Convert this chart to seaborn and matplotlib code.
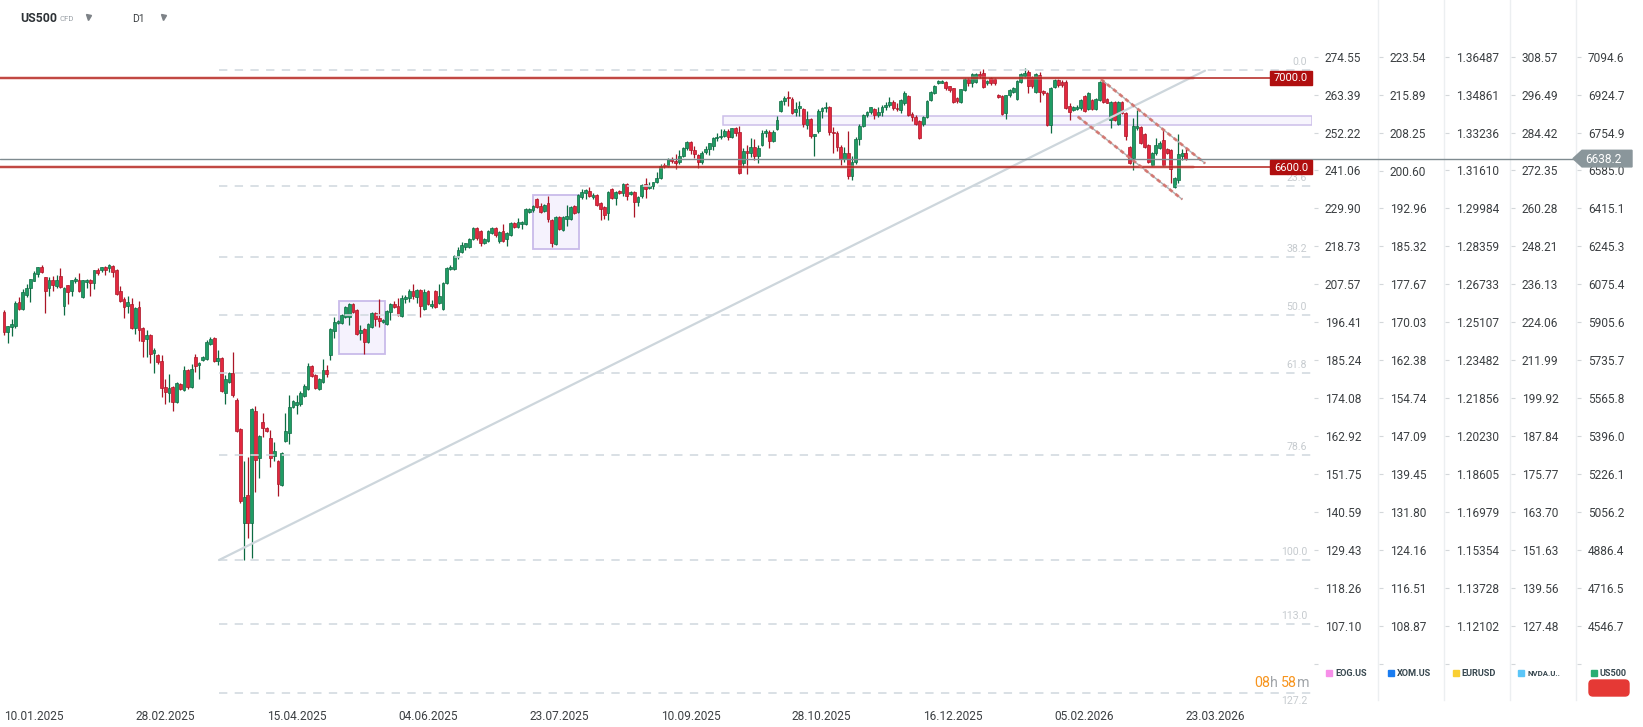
import numpy as np
import pandas as pd
import matplotlib
matplotlib.use("Agg")
import matplotlib.pyplot as plt
from matplotlib.patches import Rectangle, Polygon, FancyBboxPatch
import seaborn as sns

# ---------------- chart values ----------------
opens = [
    5950, 5863, 5885, 5888, 5995, 5966, 6027, 6060, 6091, 6120,
    6151, 6107, 6057, 6093, 6069, 6111, 5979, 6071, 6044, 6089,
    6093, 6017, 6084, 6093, 6080, 6138, 6138, 6151, 6150, 6157,
    6139, 6044, 6008, 5979, 5986, 5881, 5972, 5880, 5830, 5848,
    5767, 5758, 5732, 5615, 5589, 5615, 5548, 5629, 5602, 5691,
    5615, 5750, 5714, 5736, 5741, 5808, 5835, 5732, 5745, 5589,
    5638, 5678, 5557, 5427, 5006, 5132, 5006, 5508, 5297, 5458,
    5432, 5387, 5306, 5284, 5176, 5373, 5409, 5526, 5535, 5539,
    5575, 5606, 5709, 5669, 5606, 5638, 5691, 5758, 5866, 5902,
    5902, 5929, 5929, 5987, 5960, 5857, 5875, 5817, 5884, 5947,
    5924, 5906, 5897, 5951, 5987, 5978, 5933, 6009, 6014, 6045,
    6018, 6050, 5965, 6045, 5978, 6045, 5992, 5965, 6081, 6144,
    6144, 6197, 6220, 6242, 6242, 6278, 6327, 6314, 6260, 6269,
    6305, 6327, 6269, 6314, 6278, 6296, 6350, 6332, 6345, 6345,
    6399, 6408, 6457, 6426, 6404, 6439, 6363, 6256, 6377, 6318,
    6368, 6368, 6426, 6399, 6466, 6484, 6493, 6466, 6475, 6439,
    6421, 6395, 6502, 6462, 6493, 6484, 6525, 6480, 6489, 6444,
    6470, 6525, 6505, 6515, 6535, 6552, 6607, 6606, 6635, 6626,
    6625, 6652, 6684, 6713, 6678, 6655, 6625, 6668, 6680, 6695,
    6732, 6736, 6738, 6762, 6735, 6774, 6756, 6620, 6670, 6665,
    6692, 6648, 6700, 6755, 6757, 6718, 6770, 6850, 6895, 6912,
    6905, 6845, 6865, 6860, 6790, 6815, 6738, 6760, 6850, 6866,
    6870, 6755, 6752, 6690, 6638, 6665, 6560, 6625, 6725, 6786,
    6833, 6845, 6860, 6835, 6845, 6870, 6878, 6890, 6866, 6855,
    6887, 6919, 6838, 6825, 6807, 6793, 6825, 6901, 6932, 6977,
    6977, 6981, 6963, 6954, 6910, 6892, 6945, 6995, 6977, 6980,
    7017, 7022, 6977, 6999, 6995, 6923, 6920, 6841, 6923, 6938,
    6904, 6981, 7008, 7027, 7002, 6938, 7013, 6942, 6930, 6789,
    6960, 6990, 6983, 6983, 6874, 6856, 6859, 6864, 6920, 6859,
    6901, 6859, 6901, 6983, 6904, 6811, 6890, 6793, 6893, 6841,
    6691, 6640, 6774, 6781, 6748, 6699, 6610, 6662, 6684, 6722,
    6680, 6677, 6512, 6542, 6650, 6663,
]
highs = [
    5960, 5890, 5920, 6000, 6017, 6053, 6075, 6100, 6135, 6153,
    6162, 6110, 6109, 6111, 6116, 6148, 6062, 6073, 6095, 6108,
    6126, 6095, 6100, 6100, 6140, 6147, 6153, 6158, 6166, 6162,
    6142, 6068, 6018, 6023, 6014, 5974, 6000, 5884, 5870, 5852,
    5790, 5765, 5758, 5651, 5673, 5620, 5638, 5633, 5709, 5695,
    5718, 5763, 5727, 5754, 5826, 5839, 5839, 5781, 5750, 5669,
    5682, 5772, 5566, 5431, 5284, 5302, 5521, 5530, 5400, 5499,
    5436, 5423, 5369, 5288, 5324, 5499, 5579, 5557, 5579, 5597,
    5629, 5723, 5714, 5673, 5656, 5741, 5714, 5880, 5929, 5915,
    5942, 5979, 5992, 5992, 5965, 5893, 5880, 5902, 5951, 5951,
    6009, 5920, 5960, 5992, 6001, 6014, 6027, 6027, 6054, 6077,
    6054, 6054, 6054, 6048, 6005, 6048, 6077, 6085, 6152, 6162,
    6206, 6242, 6265, 6262, 6282, 6331, 6331, 6318, 6282, 6318,
    6332, 6331, 6312, 6345, 6309, 6354, 6354, 6372, 6358, 6416,
    6416, 6430, 6461, 6439, 6434, 6471, 6367, 6381, 6381, 6381,
    6430, 6426, 6430, 6480, 6502, 6502, 6511, 6484, 6480, 6443,
    6424, 6493, 6507, 6493, 6498, 6529, 6529, 6493, 6493, 6470,
    6523, 6552, 6532, 6535, 6580, 6612, 6620, 6640, 6647, 6658,
    6676, 6692, 6715, 6717, 6696, 6660, 6670, 6695, 6710, 6735,
    6751, 6770, 6769, 6770, 6775, 6780, 6785, 6686, 6700, 6730,
    6728, 6700, 6765, 6772, 6765, 6766, 6827, 6900, 6920, 6940,
    6915, 6890, 6895, 6865, 6850, 6820, 6750, 6860, 6870, 6890,
    6875, 6780, 6760, 6700, 6690, 6760, 6650, 6735, 6795, 6840,
    6850, 6870, 6865, 6870, 6880, 6890, 6915, 6900, 6885, 6905,
    6941, 6923, 6847, 6834, 6811, 6830, 6901, 6941, 6968, 6990,
    6992, 6984, 6965, 6956, 6915, 6952, 6999, 6999, 7020, 7022,
    7030, 7039, 6990, 7004, 6999, 6928, 6925, 6925, 6950, 6960,
    6990, 7020, 7043, 7035, 7008, 7022, 7026, 6945, 6935, 6958,
    6995, 6995, 6988, 6988, 6887, 6874, 6878, 6905, 6925, 6935,
    6905, 6910, 6985, 6990, 6910, 6896, 6895, 6894, 6898, 6845,
    6695, 6820, 6856, 6786, 6752, 6704, 6666, 6730, 6715, 6766,
    6686, 6680, 6556, 6748, 6681, 6681,
]
lows = [
    5848, 5811, 5844, 5881, 5962, 5960, 6020, 5997, 6088, 6107,
    6125, 5948, 6023, 6047, 6057, 6060, 5939, 5988, 6024, 6080,
    6042, 6015, 6060, 6024, 6055, 6118, 6132, 6118, 6130, 6107,
    6027, 5996, 5926, 5948, 5876, 5851, 5823, 5750, 5750, 5723,
    5678, 5720, 5570, 5539, 5548, 5508, 5543, 5600, 5597, 5606,
    5611, 5682, 5651, 5732, 5736, 5803, 5727, 5714, 5593, 5539,
    5633, 5570, 5414, 5096, 4840, 4939, 4849, 5145, 5208, 5391,
    5414, 5257, 5284, 5127, 5172, 5369, 5360, 5520, 5494, 5530,
    5570, 5602, 5660, 5606, 5602, 5633, 5660, 5736, 5835, 5897,
    5897, 5924, 5893, 5947, 5848, 5826, 5763, 5812, 5880, 5889,
    5884, 5902, 5893, 5915, 5969, 5933, 5929, 5992, 5996, 6009,
    5992, 5929, 5960, 5983, 5969, 5969, 5987, 5960, 6077, 6139,
    6139, 6189, 6215, 6229, 6238, 6273, 6274, 6247, 6256, 6265,
    6300, 6287, 6260, 6265, 6247, 6292, 6327, 6329, 6323, 6341,
    6394, 6399, 6417, 6394, 6399, 6354, 6242, 6251, 6318, 6314,
    6336, 6363, 6390, 6394, 6457, 6457, 6466, 6457, 6426, 6363,
    6368, 6363, 6457, 6430, 6480, 6471, 6453, 6475, 6377, 6426,
    6462, 6463, 6500, 6500, 6530, 6548, 6595, 6600, 6618, 6590,
    6615, 6645, 6675, 6660, 6640, 6595, 6615, 6660, 6655, 6675,
    6715, 6725, 6735, 6720, 6730, 6740, 6570, 6600, 6570, 6645,
    6630, 6620, 6695, 6735, 6685, 6712, 6765, 6845, 6880, 6875,
    6840, 6830, 6830, 6780, 6770, 6730, 6650, 6755, 6820, 6845,
    6745, 6665, 6670, 6610, 6625, 6545, 6541, 6615, 6700, 6780,
    6825, 6838, 6815, 6825, 6830, 6855, 6870, 6855, 6850, 6842,
    6878, 6829, 6807, 6789, 6726, 6785, 6820, 6896, 6928, 6972,
    6975, 6945, 6937, 6887, 6887, 6885, 6941, 6963, 6959, 6975,
    7000, 6955, 6968, 6970, 6968, 6910, 6834, 6816, 6915, 6932,
    6900, 6975, 7004, 6932, 6955, 6932, 6890, 6925, 6785, 6754,
    6955, 6960, 6960, 6860, 6811, 6850, 6855, 6858, 6848, 6855,
    6855, 6855, 6896, 6888, 6885, 6775, 6805, 6788, 6836, 6722,
    6614, 6587, 6766, 6702, 6686, 6620, 6605, 6654, 6680, 6605,
    6660, 6528, 6508, 6528, 6632, 6632,
]
closes = [
    5863, 5888, 5897, 5990, 5966, 6039, 6057, 6098, 6125, 6151,
    6130, 6047, 6093, 6073, 6093, 6065, 6059, 6042, 6093, 6099,
    6047, 6093, 6093, 6080, 6138, 6126, 6151, 6139, 6162, 6132,
    6030, 6002, 5975, 5995, 5878, 5969, 5871, 5821, 5848, 5763,
    5781, 5727, 5611, 5593, 5611, 5548, 5633, 5606, 5691, 5615,
    5696, 5709, 5723, 5750, 5817, 5830, 5732, 5745, 5597, 5651,
    5678, 5579, 5418, 5105, 5123, 5006, 5517, 5288, 5396, 5432,
    5418, 5297, 5329, 5181, 5320, 5418, 5526, 5553, 5548, 5589,
    5620, 5709, 5665, 5611, 5651, 5691, 5673, 5875, 5906, 5911,
    5938, 5974, 5987, 5951, 5853, 5871, 5817, 5897, 5947, 5920,
    5911, 5915, 5956, 5987, 5974, 5938, 6014, 6018, 6045, 6023,
    6050, 5978, 6039, 5987, 5987, 5974, 6023, 6081, 6148, 6153,
    6202, 6229, 6251, 6260, 6278, 6327, 6283, 6260, 6278, 6314,
    6327, 6296, 6309, 6269, 6305, 6350, 6332, 6354, 6354, 6412,
    6412, 6426, 6421, 6399, 6430, 6368, 6260, 6377, 6323, 6377,
    6381, 6421, 6395, 6475, 6489, 6498, 6471, 6475, 6430, 6412,
    6386, 6489, 6462, 6489, 6484, 6525, 6471, 6489, 6444, 6466,
    6522, 6502, 6515, 6532, 6552, 6607, 6604, 6635, 6626, 6620,
    6651, 6684, 6713, 6676, 6658, 6625, 6664, 6681, 6708, 6731,
    6735, 6736, 6760, 6734, 6773, 6755, 6572, 6674, 6664, 6691,
    6650, 6684, 6755, 6755, 6719, 6758, 6812, 6895, 6911, 6910,
    6842, 6860, 6872, 6791, 6816, 6740, 6748, 6852, 6866, 6871,
    6757, 6754, 6692, 6637, 6662, 6558, 6623, 6725, 6786, 6833,
    6845, 6869, 6832, 6849, 6870, 6877, 6890, 6866, 6860, 6901,
    6932, 6834, 6825, 6793, 6730, 6825, 6896, 6937, 6963, 6986,
    6986, 6954, 6945, 6892, 6896, 6950, 6995, 6977, 7017, 7015,
    7008, 6959, 6986, 6977, 6977, 6913, 6838, 6923, 6945, 6953,
    6986, 7016, 7020, 6965, 6965, 7016, 6938, 6930, 6789, 6953,
    6990, 6968, 6968, 6864, 6848, 6869, 6871, 6901, 6853, 6930,
    6859, 6905, 6980, 6893, 6889, 6893, 6811, 6890, 6841, 6739,
    6617, 6784, 6784, 6707, 6691, 6624, 6662, 6699, 6710, 6609,
    6665, 6590, 6553, 6658, 6663, 6638,
]

date_labels = ["10.01.2025", "28.02.2025", "15.04.2025", "04.06.2025", "23.07.2025",
               "10.09.2025", "28.10.2025", "16.12.2025", "05.02.2026", "23.03.2026"]
date_ticks = [0, 35, 70, 105, 140, 175, 210, 245, 280, 315]

fib_levels = [0.0, 23.6, 38.2, 50.0, 61.8, 78.6, 100.0, 113.0, 127.2]
fib_top = 7035.0
fib_bottom = 4840.0
fib_from = 57.3

red_levels = [7000.0, 6600.0]
last_price = 6638.2

trend_x = [57.3, 320.1]
trend_y = [4840.0, 7032.0]
chan_up_x = [292.4, 320.1]
chan_up_y = [6993.0, 6617.0]
chan_lo_x = [286.2, 314.0]
chan_lo_y = [6826.0, 6456.0]

box_x0 = [89.4, 141.0]
box_x1 = [101.5, 153.3]
box_lo = [5763.0, 6233.0]
box_hi = [6000.0, 6475.0]
band_x0 = 191.6
band_lo, band_hi = 6789.0, 6829.0

col_names = ["EOG.US", "XOM.US", "EURUSD", "NVDA.U..", "US500"]
col_colors = ["#f78fe9", "#1a7cf0", "#f9cf33", "#5bc6f8", "#27ad72"]
eog_ticks = [274.55, 263.39, 252.22, 241.06, 229.90, 218.73, 207.57, 196.41,
             185.24, 174.08, 162.92, 151.75, 140.59, 129.43, 118.26, 107.10]
xom_ticks = [223.54, 215.89, 208.25, 200.60, 192.96, 185.32, 177.67, 170.03,
             162.38, 154.74, 147.09, 139.45, 131.80, 124.16, 116.51, 108.87]
eurusd_ticks = [1.36487, 1.34861, 1.33236, 1.31610, 1.29984, 1.28359, 1.26733, 1.25107,
                1.23482, 1.21856, 1.20230, 1.18605, 1.16979, 1.15354, 1.13728, 1.12102]
nvda_ticks = [308.57, 296.49, 284.42, 272.35, 260.28, 248.21, 236.13, 224.06,
              211.99, 199.92, 187.84, 175.77, 163.70, 151.63, 139.56, 127.48]
us500_ticks = [7094.6, 6924.7, 6754.9, 6585.0, 6415.1, 6245.3, 6075.4, 5905.6,
               5735.7, 5565.8, 5396.0, 5226.1, 5056.2, 4886.4, 4716.5, 4546.7]
col_ticks = [eog_ticks, xom_ticks, eurusd_ticks, nvda_ticks, us500_ticks]
col_decimals = [2, 2, 5, 2, 1]

# ---------------- layout ----------------
W, H = 1643, 727
PLOT_R, PLOT_B = 1312, 700
BAR0_PX, BAR_PX = 4.0, 3.752
TICK0_PX, TICK_GAP = 56.7, 37.93
col_left = [1313, 1378, 1444, 1510, 1576]

GREEN, GREEN_D = "#1f9c64", "#0d6b42"
RED, RED_D = "#e3273e", "#aa1526"
TEXT = "#3c4043"

ppp = TICK_GAP / (us500_ticks[0] - us500_ticks[1])  # pixels per index point
price_top = us500_ticks[0] + TICK0_PX / ppp
price_bot = us500_ticks[0] - (PLOT_B - TICK0_PX) / ppp


def px_y(p):
    return TICK0_PX + (us500_ticks[0] - p) * ppp


sns.set_theme(style="white")
plt.rcParams["font.family"] = ["Roboto", "DejaVu Sans"]
plt.rcParams["lines.scale_dashes"] = False

fig = plt.figure(figsize=(W / 100, H / 100), dpi=100, facecolor="white")
ax = fig.add_axes([0, 1 - PLOT_B / H, PLOT_R / W, PLOT_B / H])
xmin, xmax = -BAR0_PX / BAR_PX, (PLOT_R - BAR0_PX) / BAR_PX
ax.set_xlim(xmin, xmax)
ax.set_ylim(price_bot, price_top)
ax.set_facecolor("white")
sns.despine(ax=ax, left=True, bottom=True)
ax.set_yticks([])

# candles
df = pd.DataFrame({"open": opens, "high": highs, "low": lows, "close": closes})
df["x"] = np.arange(len(df))
up = df["close"] >= df["open"]
face = np.where(up, GREEN, RED)
edge = np.where(up, GREEN_D, RED_D)
ax.vlines(df["x"], df["low"], df["high"], colors=edge, lw=0.9, zorder=3)
body_lo = np.minimum(df["open"], df["close"])
body_h = np.maximum((df["close"] - df["open"]).abs(), 5)
ax.bar(df["x"], body_h, bottom=body_lo, width=0.74, color=face,
       edgecolor=edge, linewidth=0.5, zorder=4)

# rectangles
for x0, x1, lo, hi in zip(box_x0, box_x1, box_lo, box_hi):
    ax.add_patch(Rectangle((x0, lo), x1 - x0, hi - lo, facecolor="#f5f2fd",
                           edgecolor="#c9bbea", lw=1.3, zorder=2))
ax.add_patch(Rectangle((band_x0, band_lo), xmax - band_x0, band_hi - band_lo,
                       facecolor="#f7f5fd", edgecolor="#ccbfe9", lw=1.1, zorder=2))

# fibonacci levels (the last label sits under its line, clear of the countdown)
for lv in fib_levels:
    p = fib_top + (fib_bottom - fib_top) * lv / 100
    ax.plot([fib_from, xmax], [p, p], color="#d2dae0", lw=1.3, dashes=(6, 5.3),
            alpha=0.9, zorder=5, solid_capstyle="butt")
    below = lv == fib_levels[-1]
    ax.annotate(f"{lv:.1f}", xy=(1, p), xycoords=("axes fraction", "data"),
                xytext=(-3.6, -2.0 if below else 2.2), textcoords="offset points",
                ha="right", va="top" if below else "bottom",
                fontsize=7.6, color="#c6cbcf", zorder=5, annotation_clip=False)

# trend line and descending channel
sns.lineplot(x=trend_x, y=trend_y, ax=ax, color="#cdd6dc", lw=1.6, zorder=6, legend=False)
for cx, cy in [(chan_up_x, chan_up_y), (chan_lo_x, chan_lo_y)]:
    ax.plot(cx, cy, color="#aeb1b3", lw=1.0, zorder=6)
    ax.plot(cx, cy, color="#d66d66", lw=2.0, dashes=(3, 2.6), alpha=0.85, zorder=7)

# horizontal key levels
for lv in red_levels:
    ax.plot([xmin, 317], [lv, lv], color="#e08a85", lw=2.6, alpha=0.45, zorder=6)
    ax.axhline(lv, color="#b3211b", lw=1.1, zorder=6)

# date axis
ax.set_xticks(date_ticks, labels=date_labels)
ax.tick_params(axis="x", length=0, pad=7, labelsize=8.6, labelcolor=TEXT)
for lbl in ax.get_xticklabels():
    lbl.set_ha("left")

# price columns on the right
for k, (vals, left, dec) in enumerate(zip(col_ticks, col_left, col_decimals)):
    cax = fig.add_axes([left / W, 1 - PLOT_B / H, 1 / W, PLOT_B / H])
    step = (vals[-1] - vals[0]) / (len(vals) - 1)
    cax.set_ylim(vals[0] + step * (PLOT_B - TICK0_PX) / TICK_GAP,
                 vals[0] - step * TICK0_PX / TICK_GAP)
    cax.set_xticks([])
    pos = list(vals) + [vals[0] + step * len(vals)]
    labels = [f"{v:.{dec}f}" for v in vals] + [""]
    cax.set_yticks(pos, labels=labels)
    cax.yaxis.tick_right()
    cax.tick_params(axis="y", length=2.9, width=0.8, color="#d3d7da", pad=5,
                    labelsize=8.6, labelcolor=TEXT)
    cax.patch.set_alpha(0)
    for side in ["top", "bottom", "right"]:
        cax.spines[side].set_visible(False)
    if k == 0:
        cax.spines["left"].set_visible(False)
    else:
        cax.spines["left"].set_color("#eceff1")
        cax.spines["left"].set_linewidth(1.0)

# overlay for chrome: tags, header, legend
ov = fig.add_axes([0, 0, 1, 1], zorder=10)
ov.set_xlim(0, W)
ov.set_ylim(H, 0)
ov.axis("off")

for lv in red_levels:
    y = px_y(lv)
    ov.add_patch(Rectangle((1270, y - 7), 42, 14, color="#b00f0f", zorder=3))
    ov.text(1291, y + 0.5, f"{lv:.1f}", color="white", fontsize=8, ha="center",
            va="center", zorder=4)

y_last = px_y(last_price)
ov.plot([0, 1574], [y_last, y_last], color="#7f8b90", lw=1.0, zorder=2)
ov.add_patch(Polygon([(1573, y_last), (1582, y_last - 8.3), (1632, y_last - 8.3),
                      (1632, y_last + 8.3), (1582, y_last + 8.3)],
                     closed=True, color="#8a969b", zorder=3))
ov.text(1603, y_last + 0.5, f"{last_price:.1f}", color="white", fontsize=8.6,
        ha="center", va="center", zorder=4)

# header
ov.text(20, 18.5, "US500", fontsize=8.8, fontweight="bold", color="#2d3236", va="center")
ov.text(60, 19, "CFD", fontsize=5.6, color="#9aa0a6", va="center")
ov.plot([88], [16.5], marker="v", ms=3.6, color="#7d8287", ls="none")
ov.text(132, 19, "D1", fontsize=7.5, color=TEXT, va="center")
ov.plot([163], [16.5], marker="v", ms=3.6, color="#7d8287", ls="none")

# legend row
sq_x = [1326, 1388, 1452.7, 1518, 1590.7]
tx_x = [1335, 1397, 1461.7, 1527.7, 1600]
for name, col, sx, tx in zip(col_names, col_colors, sq_x, tx_x):
    ov.add_patch(Rectangle((sx, 669.7), 6, 6, color=col))
    ov.text(tx, 673, name, fontsize=5.6 if name.startswith("NVDA") else 6.6,
            fontweight="bold", color="#37474f", va="center")
ov.add_patch(FancyBboxPatch((1589, 680), 40, 16, boxstyle="round,pad=0,rounding_size=4",
                            color="#e53935"))

# countdown
renderer = fig.canvas.get_renderer()
cx = 1254
for part, col in [("08", "#f7941d"), ("h ", "#a0a4a8"), ("58", "#f7941d"), ("m", "#a0a4a8")]:
    t = ov.text(cx, 683, part, fontsize=10.3, color=col, va="center", zorder=5)
    bb = t.get_window_extent(renderer=renderer)
    cx += bb.width

fig.savefig("out.png", dpi=100, facecolor="white")
